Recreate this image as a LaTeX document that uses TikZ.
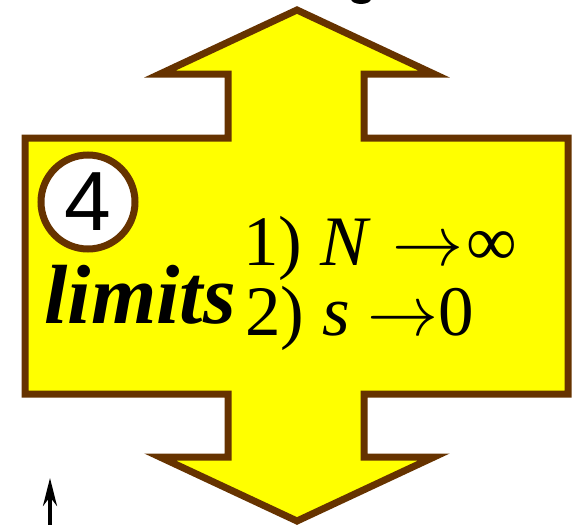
\documentclass[tikz,border=0pt]{standalone}
\usepackage{fix-cm}
\usepackage{fontspec}
\setmainfont{Liberation Serif}
\newfontfamily\numfont{Liberation Sans}
\usepackage{tikz}
\usetikzlibrary{arrows.meta}
\definecolor{arrowbrown}{RGB}{102,51,0}
\definecolor{arrowyellow}{RGB}{255,255,0}

\begin{document}
\begin{tikzpicture}[x=0.5pt,y=-0.5pt]
	\useasboundingbox (0,0) rectangle (574,525);
	\filldraw [fill=arrowyellow, draw=arrowbrown, line width=3.5pt]
		(25,138) -- (228,138) -- (228,74) -- (160,74) -- (297,10) -- (434,74) -- (364,74) -- (364,138)
		-- (568,138) -- (568,394) -- (364,394) -- (364,457) -- (434,457) -- (297,521) -- (160,457)
		-- (228,457) -- (228,394) -- (25,394) -- cycle;
	\begin{scope}[every node/.style={inner sep=0pt, anchor=base west}]
	\node [circle, draw=arrowbrown, fill=white, line width=3.5pt, minimum size=47pt, anchor=center, font=\numfont\fontsize{42}{42}\selectfont] (num) at (88,202) {4};
	\node [font=\fontsize{42}{42}\selectfont\bfseries\itshape] (limits) at (44,323) {limits};
	\node [font=\fontsize{35.5}{35.5}\selectfont] (lim1) at (243,265) {1) \textit{N}\hspace{0.3em}$\rightarrow$\hspace{0.05em}∞};
	\node [font=\fontsize{35.5}{35.5}\selectfont] (lim2) at (245,335) {2) \textit{s}\hspace{0.25em}$\rightarrow$0};
	\end{scope}
	\coordinate (foot) at (50,530);
	\coordinate (tip) at (50,478);
	\draw [line width=2pt, -{Stealth[length=14pt,width=7pt]}] (foot) -- (tip);
	\fill (361,-1) ellipse (10 and 5);
\end{tikzpicture}
\end{document}
